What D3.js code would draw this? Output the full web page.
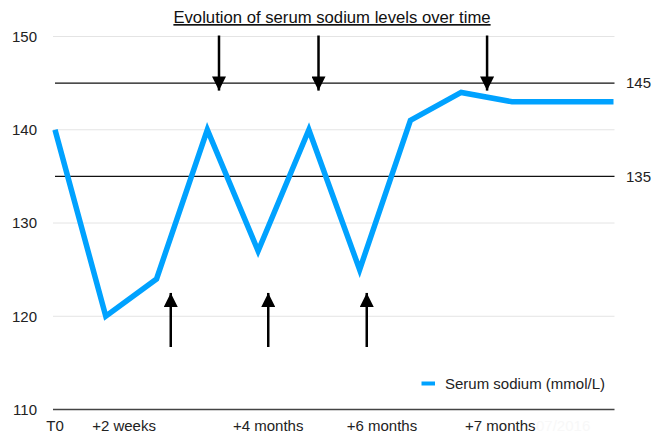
<!DOCTYPE html>
<html>
<head>
<meta charset="utf-8">
<script src="https://cdn.jsdelivr.net/npm/d3@7/dist/d3.min.js"></script>
<style>
  html, body { margin: 0; padding: 0; background: #fff; }
  svg { display: block; font-family: "Liberation Sans", Arial, Helvetica, sans-serif; }
</style>
</head>
<body>
<svg id="chart"></svg>
<script>
const title = "Evolution of serum sodium levels over time";
const sodium = [140, 120, 124, 140, 127, 140, 125, 141, 144, 143, 143, 143];
const yTicks = [110, 120, 130, 140, 150];
const refLines = [145, 135];
const xLabels = ["T0", "+2 weeks", "+4 months", "+6 months", "+7 months"];
const xLabelAt = [0, 1.36, 4.2, 6.44, 8.77];
const downArrows = [3.23, 5.19, 8.51];
const upArrows = [2.28, 4.2, 6.14];
const legendLabel = "Serum sodium (mmol/L)";

const width = 663, height = 446;
const blue = "#00a2ff";

const svg = d3.select("#chart").attr("width", width).attr("height", height);

const x = d3.scaleLinear().domain([0, sodium.length - 1]).range([55, 613.5]);
const y = d3.scaleLinear().domain([110, 150]).range([409.5, 36.5]);

// arrow heads
const defs = svg.append("defs");
defs.append("marker")
  .attr("id", "head")
  .attr("viewBox", "0 0 10 10")
  .attr("refX", 10).attr("refY", 5)
  .attr("markerUnits", "userSpaceOnUse")
  .attr("markerWidth", 15).attr("markerHeight", 14)
  .attr("orient", "auto")
  .append("path")
  .attr("d", "M0,0 L10,5 L0,10 Z")
  .attr("fill", "#000");

// grid lines
svg.append("g")
  .selectAll("line")
  .data(yTicks.filter(d => d !== 110))
  .enter()
  .append("line")
  .attr("x1", x(0) - 2).attr("x2", x(sodium.length - 1) + 1)
  .attr("y1", d => y(d)).attr("y2", d => y(d))
  .attr("stroke", "#e4e4e4")
  .attr("stroke-width", 1);

// baseline
svg.append("line")
  .attr("x1", x(0) - 2).attr("x2", x(sodium.length - 1) + 1)
  .attr("y1", y(110)).attr("y2", y(110))
  .attr("stroke", "#444")
  .attr("stroke-width", 1.5);

// y labels
svg.append("g")
  .selectAll("text")
  .data(yTicks)
  .enter()
  .append("text")
  .attr("x", 37)
  .attr("y", d => y(d))
  .attr("dy", "0.35em")
  .attr("text-anchor", "end")
  .style("font-size", "15px")
  .style("fill", "#222")
  .text(d => d);

// reference lines
svg.append("g")
  .selectAll("line")
  .data(refLines)
  .enter()
  .append("line")
  .attr("x1", x(0)).attr("x2", x(sodium.length - 1) + 1)
  .attr("y1", d => y(d)).attr("y2", d => y(d))
  .attr("stroke", "#111")
  .attr("stroke-width", 1.2);

svg.append("g")
  .selectAll("text")
  .data(refLines)
  .enter()
  .append("text")
  .attr("x", 626)
  .attr("y", d => y(d))
  .attr("dy", "0.35em")
  .style("font-size", "15px")
  .style("fill", "#222")
  .text(d => d);

// x labels
svg.append("g")
  .selectAll("text")
  .data(xLabels)
  .enter()
  .append("text")
  .attr("x", (d, i) => x(xLabelAt[i]))
  .attr("y", 431)
  .attr("text-anchor", "middle")
  .style("font-size", "15px")
  .style("fill", "#222")
  .text(d => d);

svg.append("text")
  .attr("x", 536).attr("y", 431)
  .style("font-size", "15px")
  .style("fill", "#f8f8f8")
  .text("07/2016");

// series line
const line = d3.line()
  .x((d, i) => x(i))
  .y(d => y(d));

svg.append("path")
  .datum(sodium)
  .attr("d", line)
  .attr("fill", "none")
  .attr("stroke", blue)
  .attr("stroke-width", 5.5)
  .attr("stroke-linejoin", "miter");

// arrows
svg.append("g")
  .selectAll("line")
  .data(downArrows)
  .enter()
  .append("line")
  .attr("x1", d => x(d)).attr("x2", d => x(d))
  .attr("y1", y(150) - 1).attr("y2", y(144.2))
  .attr("stroke", "#000")
  .attr("stroke-width", 2.5)
  .attr("marker-end", "url(#head)");

svg.append("g")
  .selectAll("line")
  .data(upArrows)
  .enter()
  .append("line")
  .attr("x1", d => x(d)).attr("x2", d => x(d))
  .attr("y1", y(116.7)).attr("y2", y(122.5))
  .attr("stroke", "#000")
  .attr("stroke-width", 2.5)
  .attr("marker-end", "url(#head)");

// title
svg.append("text")
  .attr("x", 332)
  .attr("y", 23)
  .attr("text-anchor", "middle")
  .style("font-size", "16.7px")
  .style("fill", "#111")
  .style("text-decoration", "underline")
  .text(title);

// legend
const legend = svg.append("g");
legend.append("line")
  .attr("x1", 421.5).attr("x2", 435)
  .attr("y1", 383.5).attr("y2", 383.5)
  .attr("stroke", blue)
  .attr("stroke-width", 4);
legend.append("text")
  .attr("x", 445).attr("y", 383.5)
  .attr("dy", "0.35em")
  .style("font-size", "15px")
  .style("fill", "#222")
  .text(legendLabel);
</script>
</body>
</html>
